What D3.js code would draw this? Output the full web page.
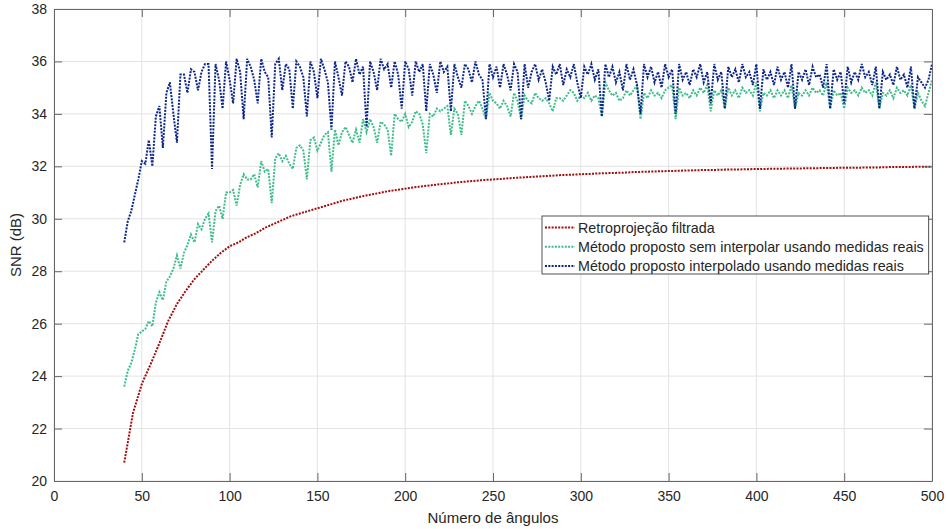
<!DOCTYPE html>
<html><head><meta charset="utf-8">
<script src="https://cdn.jsdelivr.net/npm/d3@7"></script>
<style>
body{margin:0;background:#fff}
svg{display:block}
text{font-family:Arial,"Liberation Sans",Helvetica,sans-serif;fill:#262626}
</style>
</head><body>
<svg id="chart" width="949" height="529"></svg>
<script>
// ---------------- data ----------------
const angles = d3.range(40, 501, 2); // número de ângulos (blue & green series)

const interpolatedY = [
 29.1,29.9,30.3,30.9,31.5,32.2,32.1,33.0,32.0,33.9,
 34.3,32.7,34.8,35.2,34.0,32.9,35.5,35.5,34.8,35.7,
 35.6,34.9,35.6,35.9,35.9,31.9,35.9,35.3,34.2,36.0,
 35.3,34.4,36.1,35.6,33.8,36.1,35.8,35.3,34.4,36.1,
 35.6,35.4,33.1,35.9,36.1,34.9,35.9,35.7,34.2,36.0,
 35.8,35.4,33.9,36.0,35.6,34.6,36.1,35.7,35.2,33.4,
 36.0,35.4,34.7,36.0,35.8,35.2,36.1,35.5,35.8,33.5,
 36.0,35.6,34.9,36.1,35.7,35.9,35.0,36.0,35.5,34.2,
 36.0,35.7,34.7,36.0,35.6,35.9,34.1,35.9,35.5,34.8,
 36.0,35.6,35.8,34.1,35.9,35.4,35.0,35.9,35.7,35.2,
 36.0,35.5,35.3,33.8,35.9,35.4,35.8,35.0,35.9,35.5,
 34.9,35.9,35.6,33.8,35.9,35.0,35.6,35.9,35.3,35.7,
 35.2,34.5,35.8,35.5,35.9,35.1,35.7,35.4,35.9,35.2,
 34.6,35.8,35.5,35.9,35.3,35.7,33.9,35.9,35.4,35.8,
 35.2,35.6,34.9,35.9,35.3,35.7,35.1,34.0,35.9,35.4,
 35.8,35.2,35.6,35.0,35.9,35.4,35.7,34.0,35.9,35.3,
 35.6,35.1,35.7,35.4,35.9,35.2,35.6,34.4,35.9,35.3,
 35.6,34.2,35.8,35.4,35.7,35.2,35.9,35.4,35.6,35.1,
 35.9,34.2,35.7,35.3,35.6,35.1,35.8,35.3,35.6,35.0,
 35.9,34.2,35.6,35.3,35.7,35.1,35.8,35.4,35.5,35.0,
 35.9,34.2,35.7,35.3,35.6,34.4,35.8,35.2,35.6,35.3,
 35.9,35.4,35.6,35.1,35.8,34.2,35.6,35.3,35.5,35.1,
 35.8,35.3,35.5,35.0,35.8,34.2,35.4,35.2,35.0,35.3,
 35.9
];

const nonInterpY = [
 23.6,24.2,24.5,25.0,25.6,25.7,25.8,26.1,25.9,26.8,
 27.2,26.9,27.6,27.8,28.1,28.6,28.1,28.7,29.0,29.4,
 29.1,29.8,29.6,30.0,30.2,29.1,30.3,30.5,30.0,31.0,
 31.0,31.1,30.5,31.3,31.7,31.5,31.5,31.7,31.2,32.2,
 31.8,31.9,30.6,32.3,32.5,32.2,32.4,32.1,31.9,32.7,
 32.8,32.6,31.5,33.0,33.1,32.6,32.9,33.2,33.3,31.8,
 33.4,32.8,33.3,33.5,33.2,32.9,33.4,32.9,33.8,33.3,
 33.8,33.5,32.9,33.7,33.6,33.4,32.4,34.0,33.8,33.7,
 34.0,33.5,33.7,34.1,34.0,33.6,32.5,34.0,33.9,34.2,
 34.1,34.2,34.3,33.2,34.2,34.0,33.2,34.5,34.3,34.0,
 34.3,34.5,34.2,33.8,34.8,34.5,34.4,34.2,34.5,34.3,
 33.9,34.8,34.5,33.8,34.7,34.5,34.4,34.8,34.6,34.5,
 34.6,34.4,34.1,34.6,34.6,34.5,34.7,34.9,34.8,34.5,
 34.7,34.6,34.8,34.5,34.7,34.6,33.9,35.2,34.9,34.7,
 34.8,34.5,34.6,34.9,34.7,34.9,35.1,33.8,34.8,34.6,
 34.9,34.7,34.8,34.6,34.9,35.0,35.1,33.8,35.0,34.7,
 34.8,34.6,34.9,34.7,35.0,34.8,35.1,34.1,34.9,34.7,
 34.9,34.2,35.0,34.7,34.9,34.6,35.0,34.8,34.9,34.7,
 35.2,34.1,34.8,34.7,34.9,34.6,34.9,34.7,34.9,34.6,
 35.1,34.2,34.8,34.7,34.9,34.7,35.0,34.8,34.9,34.7,
 35.2,34.2,34.9,34.7,34.8,34.2,35.0,34.8,34.9,34.7,
 35.0,34.8,34.9,34.7,35.2,34.2,34.8,34.7,34.9,34.6,
 35.0,34.8,34.9,34.7,35.1,34.2,34.8,34.5,34.3,34.8,
 35.3
];

const fbpAngles = d3.range(40, 501, 5);
const fbpY = [
 20.7,22.6,23.7,24.45,25.25,26.1,26.75,27.25,27.7,28.05,
 28.4,28.7,28.95,29.1,29.3,29.45,29.65,29.8,29.95,30.1,
 30.2,30.3,30.4,30.5,30.6,30.7,30.77,30.85,30.92,30.98,
 31.05,31.1,31.15,31.2,31.24,31.28,31.32,31.35,31.39,31.42,
 31.45,31.48,31.5,31.52,31.55,31.57,31.59,31.61,31.63,31.65,
 31.67,31.68,31.7,31.71,31.73,31.74,31.75,31.76,31.78,31.79,
 31.8,31.81,31.82,31.83,31.84,31.85,31.86,31.86,31.87,31.88,
 31.88,31.89,31.9,31.9,31.91,31.91,31.92,31.92,31.93,31.93,
 31.94,31.94,31.95,31.95,31.95,31.96,31.96,31.97,31.97,31.97,
 31.98,31.98,31.98
];

const xTicks = [0,50,100,150,200,250,300,350,400,450,500];
const yTicks = [20,22,24,26,28,30,32,34,36,38];
const seriesNames = [
 "Retroprojeção filtrada",
 "Método proposto sem interpolar usando medidas reais",
 "Método proposto interpolado usando medidas reais"
];
const seriesColors = ["#a30d0d","#3dbd8a","#0c2589"];
const xLabel = "Número de ângulos";
const yLabel = "SNR (dB)";

// ---------------- chart ----------------
const svg = d3.select("#chart");
const L=54, R=932, T=9, B=481;
const x = d3.scaleLinear().domain([0,500]).range([L,R]);
const y = d3.scaleLinear().domain([20,38]).range([B,T]);
const axisColor = "#666666";

// grid
const grid = svg.append("g");
grid.selectAll(".gx").data(xTicks).join("line")
  .attr("x1",d=>x(d)).attr("x2",d=>x(d)).attr("y1",T).attr("y2",B)
  .attr("stroke","#e3e3e3").attr("stroke-width",1);
grid.selectAll(".gy").data(yTicks).join("line")
  .attr("x1",L).attr("x2",R).attr("y1",d=>y(d)).attr("y2",d=>y(d))
  .attr("stroke","#e3e3e3").attr("stroke-width",1);

// series
const line = d3.line().x(d=>x(d[0])).y(d=>y(d[1]));
const series = [
  d3.zip(fbpAngles, fbpY),
  d3.zip(angles, nonInterpY),
  d3.zip(angles, interpolatedY)
];
series.forEach((s,i)=>{
  svg.append("path").datum(s)
    .attr("d",line).attr("fill","none")
    .attr("stroke",seriesColors[i]).attr("stroke-width",2)
    .attr("stroke-dasharray","2,1.3");
});

// axes
function styleAxis(g){
  g.selectAll(".domain").attr("stroke",axisColor);
  g.selectAll(".tick line").attr("stroke",axisColor);
  g.selectAll(".tick text").attr("fill","#262626").style("font-size","14px");
}
svg.append("g").attr("transform",`translate(0,${B})`)
  .call(d3.axisBottom(x).tickValues(xTicks).tickSizeInner(-8).tickSizeOuter(0).tickPadding(10))
  .call(styleAxis);
svg.append("g").attr("transform",`translate(${L},0)`)
  .call(d3.axisLeft(y).tickValues(yTicks).tickSizeInner(-8).tickSizeOuter(0).tickPadding(7))
  .call(styleAxis);
svg.append("g").attr("transform",`translate(0,${T})`)
  .call(d3.axisTop(x).tickValues(xTicks).tickSizeInner(-8).tickSizeOuter(0).tickFormat(""))
  .call(styleAxis);
svg.append("g").attr("transform",`translate(${R},0)`)
  .call(d3.axisRight(y).tickValues(yTicks).tickSizeInner(-8).tickSizeOuter(0).tickFormat(""))
  .call(styleAxis);

// labels
svg.append("text").attr("x",(L+R)/2).attr("y",523)
  .attr("text-anchor","middle").style("font-size","15px").text(xLabel);
svg.append("text").attr("transform",`translate(21,${(T+B)/2}) rotate(-90)`)
  .attr("text-anchor","middle").style("font-size","15px").text(yLabel);

// legend
const lg = svg.append("g");
const lgX=542, lgY=216, rowH=19.2;
const box = lg.append("rect").attr("x",lgX).attr("y",lgY).attr("height",58)
  .attr("fill","#fff").attr("stroke","#262626").attr("stroke-width",0.8);
let maxW=0;
seriesNames.forEach((n,i)=>{
  const cy = lgY + 11.5 + i*rowH;
  lg.append("line").attr("x1",lgX+3).attr("x2",lgX+33).attr("y1",cy).attr("y2",cy)
    .attr("stroke",seriesColors[i]).attr("stroke-width",2).attr("stroke-dasharray","2,1.3");
  const t = lg.append("text").attr("x",lgX+36).attr("y",cy).attr("dy","0.35em")
    .style("font-size","14.3px").text(n);
  maxW = Math.max(maxW, t.node().getComputedTextLength());
});
box.attr("width", 36 + maxW + 5);
</script>
</body></html>
